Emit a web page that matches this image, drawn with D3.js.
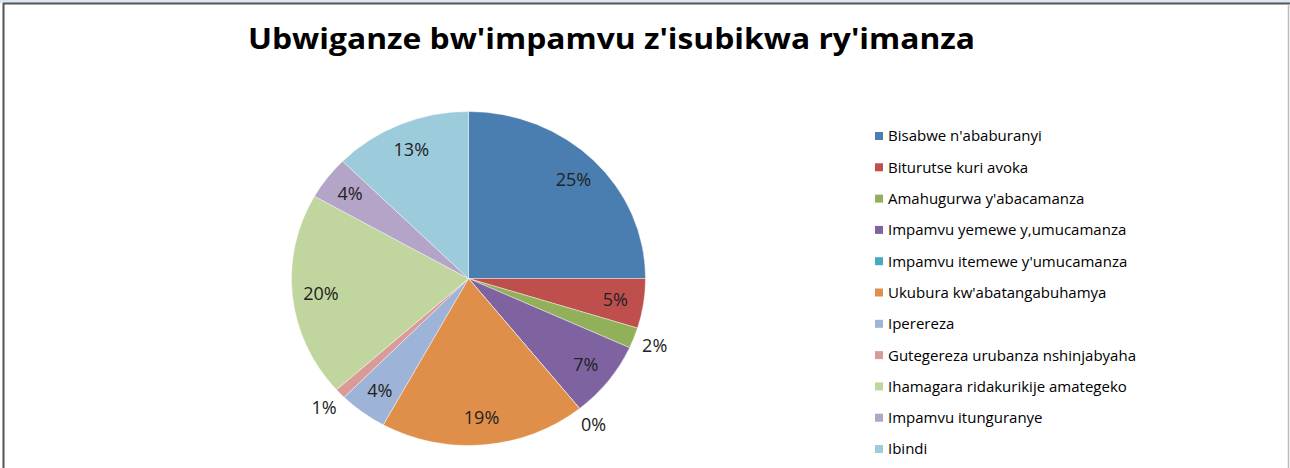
<!DOCTYPE html>
<html>
<head>
<meta charset="utf-8">
<script src="https://cdn.jsdelivr.net/npm/d3@7"></script>
<style>
  body { margin: 0; background: #fff; }
  text { font-family: "Open Sans", "DejaVu Sans", sans-serif; }
</style>
</head>
<body>
<script>
// data
const categories = [
  "Bisabwe n'ababuranyi",
  "Biturutse kuri avoka",
  "Amahugurwa y'abacamanza",
  "Impamvu yemewe y,umucamanza",
  "Impamvu itemewe y'umucamanza",
  "Ukubura kw'abatangabuhamya",
  "Iperereza",
  "Gutegereza urubanza nshinjabyaha",
  "Ihamagara ridakurikije amategeko",
  "Impamvu itunguranye",
  "Ibindi"
];
const shares = [25, 4.8, 2.0, 7.4, 0, 18.8, 4.4, 1.0, 19.8, 4.2, 12.6];
const colors = ["#4A7EB1", "#BE4F4C", "#92B05A", "#7F63A0", "#47A9C2", "#E08F4A",
                "#9DB3D7", "#D99A98", "#C0D69E", "#B3A4C8", "#9CCBDB"];
const title = "Ubwiganze bw'impamvu z'isubikwa ry'imanza";

const W = 1290, H = 468;
const cx = 468.5, cy = 278.5, r = 167, sx = 1.06; // chart is a bit wider than tall

const svg = d3.select("body").append("svg")
  .attr("width", W)
  .attr("height", H);

// frame
svg.append("rect").attr("x", 0).attr("y", 0).attr("width", W).attr("height", 3).attr("fill", "#dde6ef");
svg.append("line").attr("x1", 3).attr("x2", W).attr("y1", 3.5).attr("y2", 3.5).attr("stroke", "#555").attr("stroke-width", 2);
svg.append("line").attr("x1", 3.5).attr("x2", 3.5).attr("y1", 3).attr("y2", H).attr("stroke", "#555").attr("stroke-width", 2);
svg.append("line").attr("x1", 1288.5).attr("x2", 1288.5).attr("y1", 4).attr("y2", H).attr("stroke", "#bbb").attr("stroke-width", 1.5);

svg.append("text")
  .attr("x", 248)
  .attr("y", 49)
  .attr("textLength", 727)
  .attr("lengthAdjust", "spacingAndGlyphs")
  .style("font-size", "28px")
  .style("font-weight", "bold")
  .text(title);

const data = categories.map((c, i) => ({ name: c, value: shares[i], color: colors[i] }));

const pie = d3.pie().sort(null).value(d => d.value);
const arcs = pie(data);

const arc = d3.arc().innerRadius(0).outerRadius(r);
const inLabel = d3.arc().innerRadius(140).outerRadius(140);
const outLabel = d3.arc().innerRadius(188).outerRadius(188);

const g = svg.append("g")
  .attr("transform", `translate(${cx},${cy}) scale(${sx},1)`);

g.selectAll("path")
  .data(arcs)
  .enter()
  .append("path")
  .attr("d", arc)
  .attr("fill", d => d.data.color)
  .attr("stroke", "#fff")
  .attr("stroke-width", 0.4);

// labels: small slices go outside
const labels = svg.append("g").attr("transform", `translate(${cx},${cy})`);
labels.selectAll("text")
  .data(arcs)
  .enter()
  .append("text")
  .attr("x", d => (d.data.value < 3 ? outLabel : inLabel).centroid(d)[0] * sx)
  .attr("y", d => (d.data.value < 3 ? outLabel : inLabel).centroid(d)[1])
  .attr("dy", "0.35em")
  .attr("text-anchor", "middle")
  .style("font-size", "18px")
  .style("fill", "#222")
  .text(d => Math.round(d.data.value) + "%");

// legend
const legend = svg.selectAll(".legend")
  .data(data)
  .enter()
  .append("g")
  .attr("class", "legend")
  .attr("transform", (d, i) => `translate(875,${136 + i * 31.3})`);

legend.append("rect")
  .attr("x", 0)
  .attr("y", -4)
  .attr("width", 8)
  .attr("height", 8)
  .attr("fill", d => d.color);

legend.append("text")
  .attr("x", 13)
  .attr("y", 0)
  .attr("dy", "0.36em")
  .style("font-size", "15px")
  .style("fill", "#000")
  .text(d => d.name);
</script>
</body>
</html>
